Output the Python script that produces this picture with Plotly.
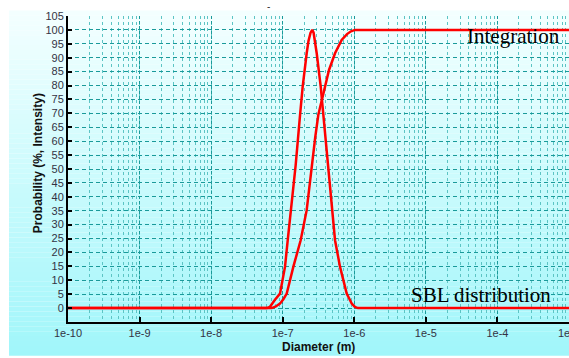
import plotly.graph_objects as go

# ---- data ----
dist_d = [1e-10, 6.0e-8, 6.6e-8, 7.01e-8, 7.8e-8, 9.16e-8, 1.076e-7, 1.175e-7, 1.306e-7, 1.517e-7,
          1.746e-7, 1.901e-7, 2.163e-7, 2.291e-7, 2.45e-7, 2.588e-7, 2.70e-7, 2.825e-7, 2.985e-7,
          3.396e-7, 3.690e-7, 4.256e-7, 4.831e-7, 5.383e-7, 6.324e-7, 7.834e-7, 9.204e-7,
          1.02e-6, 1.127e-6, 1e-3]
dist_v = [0, 0, 0.4, 1.5, 3.0, 5.2, 14.8, 24.4, 35.2, 51.4,
          69.4, 79.6, 91.6, 96, 99, 100, 99, 96, 91.6,
          79.6, 69.4, 51.4, 35.2, 24.4, 14.8, 5.2, 1.6,
          0.4, 0, 0]

integ_d = [1e-10, 7.0e-8, 7.9e-8, 9.16e-8, 1.02e-7, 1.138e-7, 1.406e-7, 1.782e-7, 2.163e-7, 2.541e-7,
           2.85e-7, 3.141e-7, 3.899e-7, 4.436e-7, 5.383e-7, 6.668e-7, 7.907e-7, 9.0e-7, 1.023e-6, 1e-3]
integ_v = [0, 0, 0.5, 1.6, 3.2, 5.2, 14.8, 24.4, 35.2, 51.4,
           61.5, 69.4, 79.6, 85.6, 91.6, 96.4, 98.5, 99.5, 100, 100]

x_tickvals = [1e-10, 1e-9, 1e-8, 1e-7, 1e-6, 1e-5, 1e-4, 1e-3]
x_ticktext = ["1e-10", "1e-9", "1e-8", "1e-7", "1e-6", "1e-5", "1e-4", "1e-3"]
y_tickvals = list(range(0, 106, 5))

W, H = 569, 358
L, R, T, B = 68, 569, 16, 321.7

def px(x):
    return (x - L) / (R - L)

def py(y):
    return (B - y) / (B - T)

fig = go.Figure()
fig.add_trace(go.Scatter(x=dist_d, y=dist_v, mode="lines",
                         line=dict(color="#ff0000", width=2.5),
                         showlegend=False))
fig.add_trace(go.Scatter(x=integ_d, y=integ_v, mode="lines",
                         line=dict(color="#ff0000", width=2.5),
                         showlegend=False))

# gradient background bands
shapes = []
n = 70
y_top, y_bot = 10.5, 355.5
c0 = (244, 255, 255)
c1 = (160, 246, 250)
for i in range(n):
    ya = y_top + (y_bot - y_top) * i / n
    yb = y_top + (y_bot - y_top) * (i + 1) / n
    t = (i + 0.5) / n
    c = tuple(int(round(c0[k] + (c1[k] - c0[k]) * t)) for k in range(3))
    shapes.append(dict(type="rect", xref="paper", yref="paper", layer="below",
                       x0=px(9), x1=px(600), y0=py(yb), y1=py(ya),
                       fillcolor="rgb(%d,%d,%d)" % c, line=dict(width=0)))

fig.update_layout(
    width=W, height=H,
    margin=dict(l=L, r=W - R, t=T, b=H - B, autoexpand=False),
    paper_bgcolor="white",
    plot_bgcolor="rgba(0,0,0,0)",
    shapes=shapes,
    font=dict(family="Liberation Sans, Arial", size=11, color="#333344"),
)

fig.update_xaxes(
    type="log", range=[-10, -3], automargin=False,
    tickvals=x_tickvals, ticktext=x_ticktext, ticklabeloverflow="allow",
    ticks="inside", ticklen=5, tickwidth=2, tickcolor="black",
    showline=True, linecolor="black", linewidth=2,
    showgrid=True, gridcolor="#1a9a9a", gridwidth=1, griddash="3px,2px",
    minor=dict(dtick="D1", showgrid=True, gridcolor="#5cc4c4", gridwidth=1,
               griddash="dot", ticks=""),
    zeroline=False, tickfont=dict(size=11, color="#333344"),
)
fig.update_yaxes(
    range=[-5, 105], tickvals=y_tickvals, automargin=False,
    ticks="inside", ticklen=4, tickwidth=2, tickcolor="black",
    showline=True, linecolor="black", linewidth=2,
    showgrid=True, gridcolor="#1a9a9a", gridwidth=1, griddash="4px,3px",
    zeroline=False, tickfont=dict(size=11, color="#333344"),
)

ann = [
    dict(text="<b>Diameter (m)</b>", x=px(318), y=py(346.5), font=dict(size=12, color="#111111")),
    dict(text="<b>Probability (%, Intensity)</b>", x=px(38), y=py(163), textangle=-90,
         font=dict(size=12, color="#111111")),
    dict(text="Integration", x=px(513), y=py(36),
         font=dict(family="Liberation Serif, Times New Roman", size=21, color="black")),
    dict(text="SBL distribution", x=px(481), y=py(295),
         font=dict(family="Liberation Serif, Times New Roman", size=21, color="black")),
    dict(text="-", x=px(268), y=py(7), font=dict(size=10, color="#333333")),
]
for a in ann:
    a.update(xref="paper", yref="paper", showarrow=False, xanchor="center", yanchor="middle")
fig.update_layout(annotations=ann)

fig.write_html("out.html")
